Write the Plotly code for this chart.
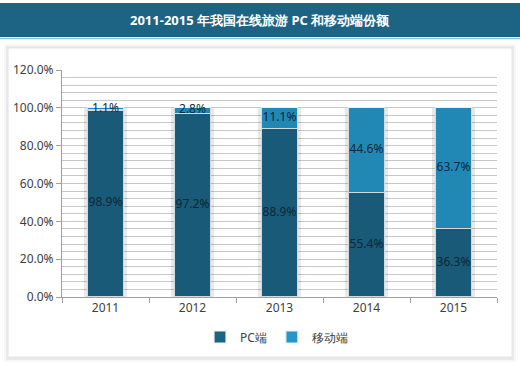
import plotly.graph_objects as go

years = ["2011", "2012", "2013", "2014", "2015"]
pc_share = [98.9, 97.2, 88.9, 55.4, 36.3]
mobile_share = [1.1, 2.8, 11.1, 44.6, 63.7]
series_names = ["PC端", "移动端"]
title_text = "2011-2015 年我国在线旅游 PC 和移动端份额"
y_ticks = [0, 20, 40, 60, 80, 100, 120]

PC_COLOR = "#1c6384"
MOB_COLOR = "#2596c9"
TEXT_COLOR = "#0f2c3c"
FONT = "Noto Sans, DejaVu Sans, sans-serif"

W, H = 520, 370
ML, MR, MT, MB = 62, 23, 70, 73
PW, PH = W - ML - MR, H - MT - MB

def px_x(px):
    return (px - ML) / PW

def px_y(py):
    return (H - MB - py) / PH

totals = [a + b for a, b in zip(pc_share, mobile_share)]

fig = go.Figure()

# soft shadow behind bars
fig.add_trace(go.Bar(
    x=years, y=totals, xaxis="x2", width=0.49,
    marker=dict(color="rgba(0,0,0,0.09)", line=dict(width=0)),
    showlegend=False, hoverinfo="skip",
))

fig.add_trace(go.Bar(
    x=years, y=pc_share, name=series_names[0], width=0.42,
    marker=dict(color=PC_COLOR, line=dict(color="#e8f0f4", width=1.2)),
))
fig.add_trace(go.Bar(
    x=years, y=mobile_share, name=series_names[1], width=0.42,
    marker=dict(color=MOB_COLOR, line=dict(color="#e8f0f4", width=1.2)),
))

# value labels
fig.add_trace(go.Scatter(
    x=years, y=[v / 2 for v in pc_share], mode="text",
    text=[f"{v:.1f}%" for v in pc_share],
    textfont=dict(family=FONT, size=12, color=TEXT_COLOR),
    showlegend=False, hoverinfo="skip",
))
fig.add_trace(go.Scatter(
    x=years, y=[p + m / 2 for p, m in zip(pc_share, mobile_share)], mode="text",
    text=[f"{v:.1f}%" for v in mobile_share],
    textfont=dict(family=FONT, size=12, color=TEXT_COLOR),
    showlegend=False, hoverinfo="skip",
))

shapes = [
    # panel shadow
    dict(type="rect", xref="paper", yref="paper",
         x0=px_x(4), x1=px_x(516), y0=px_y(362), y1=px_y(44),
         fillcolor="rgba(0,0,0,0.03)", line=dict(width=0), layer="below"),
    dict(type="rect", xref="paper", yref="paper",
         x0=px_x(6), x1=px_x(514), y0=px_y(360), y1=px_y(46),
         fillcolor="rgba(0,0,0,0.05)", line=dict(width=0), layer="below"),
    # panel
    dict(type="rect", xref="paper", yref="paper",
         x0=px_x(8), x1=px_x(512), y0=px_y(357), y1=px_y(48),
         fillcolor="white", line=dict(color="#e4e4e4", width=1), layer="below"),
    # banner
    dict(type="rect", xref="paper", yref="paper",
         x0=px_x(0), x1=px_x(520), y0=px_y(37), y1=px_y(3),
         fillcolor="#1d6383", line=dict(width=0), layer="below"),
    dict(type="line", xref="paper", yref="paper",
         x0=px_x(0), x1=px_x(520), y0=px_y(38.5), y1=px_y(38.5),
         line=dict(color="#8fc3dc", width=1.5), layer="below"),
]

fig.update_layout(
    width=W, height=H,
    margin=dict(l=ML, r=MR, t=MT, b=MB),
    paper_bgcolor="white", plot_bgcolor="rgba(0,0,0,0)",
    barmode="stack",
    shapes=shapes,
    font=dict(family=FONT, size=12, color="#404040"),
    annotations=[dict(
        text=f"<b>{title_text}</b>", xref="paper", yref="paper",
        x=px_x(260), y=px_y(20), xanchor="center", yanchor="middle",
        showarrow=False, font=dict(family=FONT, size=13, color="white"),
    )],
    xaxis=dict(
        type="category", categoryorder="array", categoryarray=years,
        showline=True, linecolor="#a0a0a0", linewidth=1,
        ticks="outside", tickson="boundaries", ticklen=5, tickcolor="#a0a0a0",
        showgrid=False, tickfont=dict(size=12, color="#404040"),
    ),
    xaxis2=dict(
        type="category", categoryorder="array", categoryarray=years,
        overlaying="x", visible=False, matches="x",
    ),
    yaxis=dict(
        range=[0, 120], tickvals=y_ticks,
        ticktext=[f"{v:.1f}%" for v in y_ticks],
        showline=True, linecolor="#a0a0a0", linewidth=1,
        ticks="outside", ticklen=5, tickcolor="#a0a0a0",
        showgrid=True, gridcolor="#c8c8c8", gridwidth=1,
        minor=dict(dtick=4, tick0=0, showgrid=True, gridcolor="#c8c8c8", gridwidth=1),
        zeroline=False, tickfont=dict(size=12, color="#404040"),
    ),
    legend=dict(
        orientation="h", x=px_x(200), xanchor="left", y=px_y(337), yanchor="middle",
        font=dict(size=12, color="#404040"), itemwidth=30,
        traceorder="normal", bgcolor="rgba(0,0,0,0)",
    ),
)

fig.write_html(
    "out.html",
    config={"displayModeBar": False},
    post_script="document.body.style.margin='0';document.body.style.padding='0';",
)
